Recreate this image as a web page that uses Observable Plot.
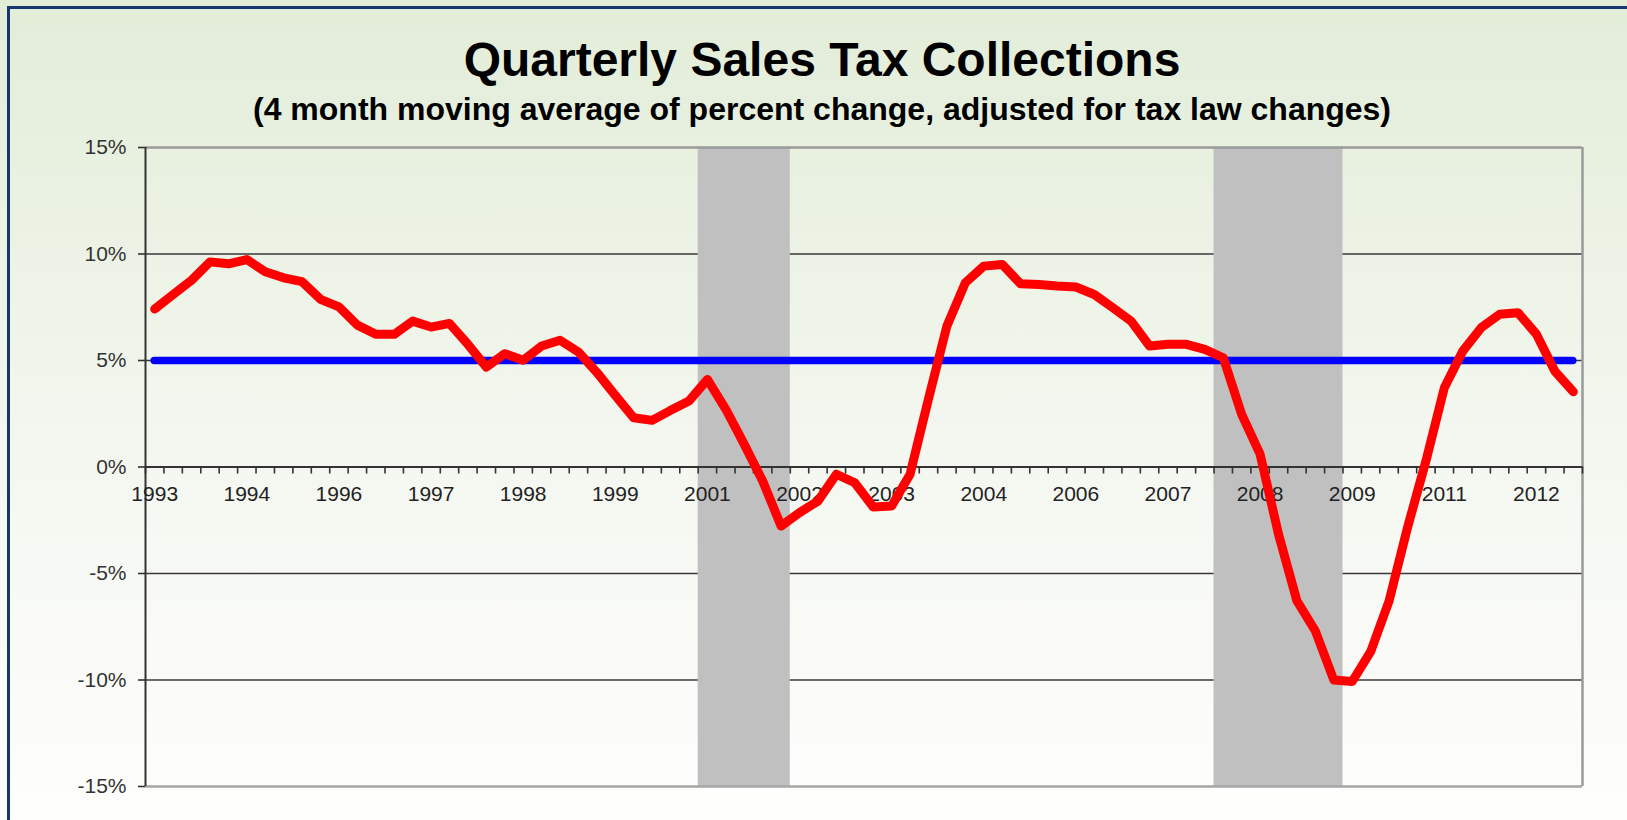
<!DOCTYPE html>
<html>
<head>
<meta charset="utf-8">
<script src="https://cdn.jsdelivr.net/npm/d3@7"></script>
<script src="https://cdn.jsdelivr.net/npm/@observablehq/plot@0.6"></script>
<style>
  html, body { margin: 0; padding: 0; }
  body {
    width: 1627px; height: 820px; overflow: hidden; position: relative;
    background: linear-gradient(to bottom, #e2edd8 0%, #f4f7f0 55%, #fefefd 100%);
    font-family: "Liberation Sans", Arial, sans-serif;
  }
  #frame {
    position: absolute; left: 7px; top: 6px; width: 1700px; height: 900px;
    border-top: 3px solid #17366f; border-left: 3px solid #17366f; box-sizing: border-box;
  }
  #title {
    position: absolute; left: 0; width: 1644px; top: 36px; text-align: center;
    font-weight: bold; font-size: 48px; line-height: 1; color: #000; white-space: nowrap;
  }
  #subtitle {
    position: absolute; left: 0; width: 1644px; top: 93px; text-align: center;
    font-weight: bold; font-size: 32px; line-height: 1; color: #000; white-space: nowrap;
  }
  #chart { position: absolute; left: 0; top: 130px; }
</style>
</head>
<body>
<div id="frame"></div>
<div id="title">Quarterly Sales Tax Collections</div>
<div id="subtitle">(4 month moving average of percent change, adjusted for tax law changes)</div>
<div id="chart"></div>
<script>
// Quarterly values (percent), one per category
const salesTaxChange = [
  7.42, 8.10, 8.77, 9.63, 9.54, 9.74, 9.17, 8.88, 8.70, 7.87,
  7.52, 6.66, 6.23, 6.23, 6.85, 6.57, 6.74, 5.76, 4.69, 5.32,
  5.01, 5.68, 5.95, 5.40, 4.44, 3.36, 2.31, 2.19, 2.66, 3.10,
  4.11, 2.71, 1.06, -0.66, -2.77, -2.14, -1.60, -0.34, -0.74, -1.88,
  -1.83, -0.34, 3.20, 6.62, 8.65, 9.43, 9.51, 8.60, 8.57, 8.50,
  8.45, 8.10, 7.48, 6.85, 5.68, 5.76, 5.76, 5.52, 5.13, 2.47,
  0.60, -3.16, -6.29, -7.70, -10.00, -10.07, -8.67, -6.29, -2.85, 0.28,
  3.72, 5.44, 6.54, 7.17, 7.24, 6.23, 4.50, 3.53
];
// Long-run benchmark growth rate (blue line)
const benchmarkRate = 5;
// Category-axis labels, one every 5 quarters
const yearLabels = ["1993","1994","1996","1997","1998","1999","2001","2002",
                    "2003","2004","2006","2007","2008","2009","2011","2012"];
const labelEvery = 5;
// Recession shading, in category units
const recessions = [
  {start: 30, end: 35},
  {start: 58, end: 65}
];
const yTicks = [-15, -10, -5, 0, 5, 10, 15];
const gridValues = [-10, -5, 5, 10];

const n = salesTaxChange.length;
const series = salesTaxChange.map((v, i) => ({pos: i + 0.5, value: v}));
const tickPositions = d3.range(0, n + 1);
const labelData = yearLabels.map((label, i) => ({pos: i * labelEvery + 0.5, label}));

const chart = Plot.plot({
  width: 1627,
  height: 690,
  marginLeft: 145,
  marginRight: 45,
  marginTop: 17,
  marginBottom: 34,
  x: {domain: [0, n], axis: null},
  y: {domain: [-15, 15], axis: null},
  style: {background: "transparent", fontFamily: "'Liberation Sans', Arial, sans-serif", overflow: "visible"},
  marks: [
    Plot.ruleY(gridValues, {stroke: "#3a3a3a", strokeWidth: 1.6}),
    Plot.rect(recessions, {x1: "start", x2: "end", y1: -15, y2: 15, fill: "#c0c0c0"}),
    Plot.ruleY([15], {stroke: "#9a9a9a", strokeWidth: 2.5}),
    Plot.ruleY([-15], {stroke: "#a6a6a6", strokeWidth: 2.5}),
    Plot.ruleX([n], {stroke: "#9a9a9a", strokeWidth: 2.5}),
    Plot.ruleX([0], {stroke: "#333", strokeWidth: 2}),
    Plot.ruleY([0], {stroke: "#333", strokeWidth: 2}),
    Plot.ruleX(tickPositions, {x: d => d, y1: 0, y2: 0, insetBottom: -7, stroke: "#333", strokeWidth: 1.6}),
    Plot.axisY({ticks: yTicks, tickFormat: d => d + "%", tickSize: 7, tickPadding: 12,
                stroke: "#333", strokeWidth: 1.6, fill: "#333", fontSize: 21, label: null}),
    Plot.text(labelData, {x: "pos", y: 0, text: "label", dy: 27, fontSize: 21, fill: "#222"}),
    Plot.ruleY([benchmarkRate], {x1: 0.5, x2: n - 0.5, stroke: "#0000ff", strokeWidth: 7.5, strokeLinecap: "round"}),
    Plot.line(series, {x: "pos", y: "value", stroke: "#ff0000", strokeWidth: 9,
                       strokeLinecap: "round", strokeLinejoin: "round"})
  ]
});
document.getElementById("chart").appendChild(chart);
</script>
</body>
</html>
